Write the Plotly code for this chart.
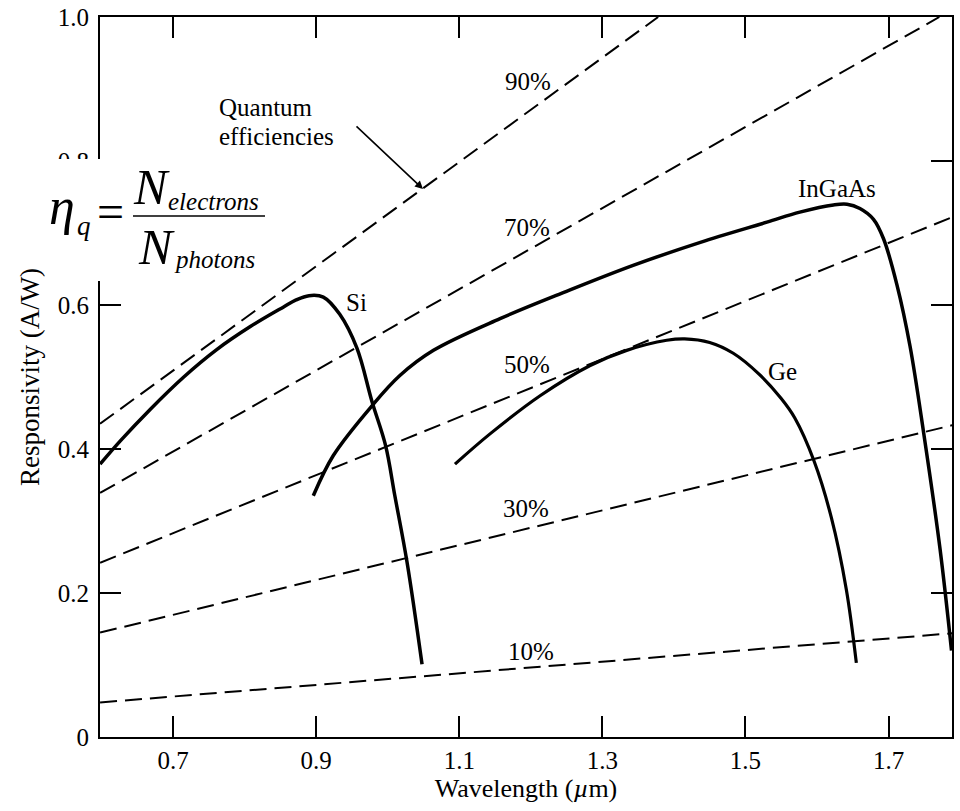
import plotly.graph_objects as go

# ---------------- data ----------------
# Quantum-efficiency guide lines (straight dashed lines, endpoints)
qe_labels = ["90%", "70%", "50%", "30%", "10%"]
qe_x0 = [0.598, 0.598, 0.598, 0.598, 0.598]
qe_y0 = [0.435, 0.339, 0.242, 0.145, 0.048]
qe_x1 = [1.378, 1.771, 1.789, 1.789, 1.789]
qe_y1 = [1.000, 1.000, 0.722, 0.433, 0.144]

# Si photodiode responsivity
si_wl = [0.598, 0.626, 0.668, 0.715, 0.761, 0.808, 0.854, 0.872, 0.890, 0.910,
         0.933, 0.957, 0.978, 0.997, 1.010, 1.027, 1.048]
si_r = [0.379, 0.411, 0.455, 0.500, 0.538, 0.570, 0.597, 0.607, 0.613, 0.611,
        0.587, 0.540, 0.466, 0.405, 0.335, 0.243, 0.101]

# InGaAs photodiode responsivity
ingaas_wl = [0.896, 0.924, 0.978, 1.017, 1.064, 1.157, 1.250, 1.343, 1.437, 1.530,
             1.576, 1.623, 1.642, 1.660, 1.679, 1.693, 1.712, 1.730, 1.749, 1.772,
             1.788]
ingaas_r = [0.335, 0.391, 0.460, 0.502, 0.537, 0.581, 0.619, 0.655, 0.687, 0.715,
            0.729, 0.739, 0.740, 0.734, 0.719, 0.692, 0.627, 0.543, 0.423, 0.261,
            0.120]

# Ge photodiode responsivity
ge_wl = [1.094, 1.143, 1.213, 1.283, 1.334, 1.390, 1.415, 1.450, 1.483, 1.519,
         1.550, 1.569, 1.596, 1.620, 1.641, 1.655]
ge_r = [0.379, 0.421, 0.474, 0.516, 0.537, 0.551, 0.553, 0.548, 0.533, 0.504,
        0.470, 0.443, 0.383, 0.305, 0.205, 0.103]

x_tickvals = [0.7, 0.9, 1.1, 1.3, 1.5, 1.7]
x_ticktext = ["0.7", "0.9", "1.1", "1.3", "1.5", "1.7"]
y_tickvals = [0, 0.2, 0.4, 0.6, 0.8, 1.0]
y_ticktext = ["0", "0.2", "0.4", "0.6", "0.8", "1.0"]

curve_names = ["Si", "InGaAs", "Ge"]

# ---------------- figure ----------------
SERIF = "Liberation Serif"
W, H = 960, 811
ML, MR, MT, MB = 100, 8, 17, 74
PW, PH = W - ML - MR, H - MT - MB


def px(xp, yp):
    """pixel position -> paper coordinates (for decorations only)"""
    return (xp - ML) / PW, (H - MB - yp) / PH


fig = go.Figure()

for i in range(len(qe_labels)):
    fig.add_trace(go.Scatter(
        x=[qe_x0[i], qe_x1[i]], y=[qe_y0[i], qe_y1[i]], mode="lines",
        line=dict(color="black", width=2, dash="17px,8px"),
        name=qe_labels[i], showlegend=False, hoverinfo="skip"))

for name, wl, r, w in [("Si", si_wl, si_r, 3.5),
                       ("InGaAs", ingaas_wl, ingaas_r, 3.5),
                       ("Ge", ge_wl, ge_r, 3.2)]:
    fig.add_trace(go.Scatter(
        x=wl, y=r, mode="lines", name=name, showlegend=False,
        line=dict(color="black", width=w, shape="spline", smoothing=1.0)))

annotations = []
# efficiency labels (data coords)
qe_label_pos = [(1.196, 0.910), (1.195, 0.708), (1.195, 0.517), (1.193, 0.318), (1.200, 0.119)]
for lab, (lx, ly) in zip(qe_labels, qe_label_pos):
    annotations.append(dict(x=lx, y=ly, xref="x", yref="y", text=lab, showarrow=False,
                            xanchor="center", yanchor="middle",
                            font=dict(family=SERIF, size=25, color="black")))
curve_label_pos = [(0.957, 0.604), (1.628, 0.7625), (1.552, 0.507)]
for lab, (lx, ly) in zip(curve_names, curve_label_pos):
    annotations.append(dict(x=lx, y=ly, xref="x", yref="y", text=lab, showarrow=False,
                            xanchor="center", yanchor="middle",
                            font=dict(family=SERIF, size=25, color="black")))

# "Quantum efficiencies" with arrow
for txt, (xp, yp) in [("Quantum", (217, 107)), ("efficiencies", (217, 137))]:
    x_, y_ = px(xp, yp)
    annotations.append(dict(x=x_, y=y_, xref="paper", yref="paper", text=txt,
                            showarrow=False, xanchor="left", yanchor="middle",
                            font=dict(family=SERIF, size=25, color="black")))
hx, hy = px(423, 189)
annotations.append(dict(x=hx, y=hy, xref="paper", yref="paper", text="",
                        showarrow=True, ax=-68, ay=-64, arrowhead=2, arrowsize=1,
                        arrowwidth=1.6, arrowcolor="black"))

# formula eta_q = N_electrons / N_photons (overlay box)
formula = [
    ("<i>η</i>", 62, 207, 52),
    ("<i>q</i>", 84, 226, 27),
    ("=", 110, 211, 48),
    ("<i>N</i>", 151, 187, 50),
    ("<i>electrons</i>", 213, 202, 25),
    ("<i>N</i>", 156, 247, 50),
    ("<i>photons</i>", 214, 259, 25),
]
for txt, xp, yp, sz in formula:
    x_, y_ = px(xp, yp)
    annotations.append(dict(x=x_, y=y_, xref="paper", yref="paper", text=txt,
                            showarrow=False, xanchor="center", yanchor="middle",
                            font=dict(family=SERIF, size=sz, color="black")))

bx0, by0 = px(0, 281)
bx1, by1 = px(285, 159)
lx0, ly = px(133, 216)
lx1, _ = px(265, 216)
shapes = [
    dict(type="rect", xref="paper", yref="paper", x0=bx0, x1=bx1, y0=by0, y1=by1,
         fillcolor="white", line=dict(width=0), layer="above"),
    dict(type="line", xref="paper", yref="paper", x0=lx0, x1=lx1, y0=ly, y1=ly,
         line=dict(color="black", width=1.6), layer="above"),
]

axis_common = dict(
    showline=True, linecolor="black", linewidth=2, mirror="ticks",
    ticks="inside", ticklen=21, tickwidth=2, tickcolor="black",
    showgrid=False, zeroline=False,
    tickfont=dict(family=SERIF, size=25, color="black"),
)

fig.update_layout(
    width=W, height=H,
    margin=dict(l=ML, r=MR, t=MT, b=MB, autoexpand=False),
    plot_bgcolor="white", paper_bgcolor="white",
    xaxis=dict(range=[0.5979, 1.7887], tickvals=x_tickvals, ticktext=x_ticktext,
               title=dict(text="Wavelength (<i>µ</i>m)", standoff=6,
                          font=dict(family=SERIF, size=26, color="black")),
               ticklabelstandoff=0, automargin=False, **axis_common),
    yaxis=dict(range=[0, 1.0], tickvals=y_tickvals, ticktext=y_ticktext,
               title=dict(text="Responsivity (A/W)", standoff=10,
                          font=dict(family=SERIF, size=27, color="black")),
               ticklabelstandoff=4, automargin=False, **axis_common),
    annotations=annotations,
    shapes=shapes,
    showlegend=False,
)

fig.write_html("out.html",
               config={"displayModeBar": False},
               post_script="document.body.style.margin='0px';"
                           "document.body.style.padding='0px';")
